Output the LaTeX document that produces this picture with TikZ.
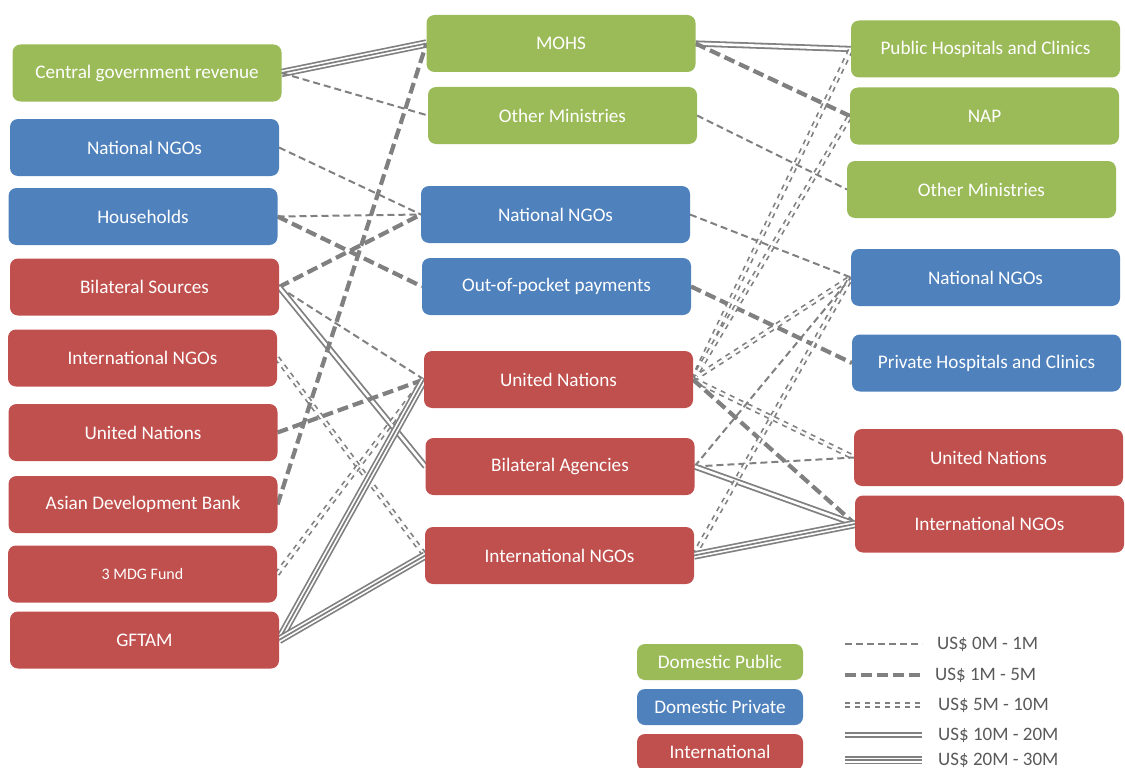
\documentclass[tikz,border=0pt]{standalone}
\usepackage{fontspec}
\setmainfont{Carlito}
\usetikzlibrary{backgrounds}
\definecolor{gpub}{RGB}{155,187,89}
\definecolor{gpriv}{RGB}{79,129,189}
\definecolor{gint}{RGB}{192,80,77}
\definecolor{conn}{RGB}{128,128,128}
\definecolor{legtext}{RGB}{89,89,89}
\begin{document}
\begin{tikzpicture}[x=1pt,y=-1pt,
  box/.style={rounded corners=8pt, minimum width=269pt, minimum height=57pt, inner sep=0pt, outer sep=0pt, text=white, font=\fontsize{19.2}{22}\selectfont},
  pub/.style={box, fill=gpub},
  priv/.style={box, fill=gpriv},
  intl/.style={box, fill=gint},
  legbox/.style={box, minimum width=166pt, minimum height=36pt},
  thindash/.style={draw=conn, line width=2pt, dash pattern=on 7pt off 4pt},
  thickdash/.style={draw=conn, line width=4.2pt, dash pattern=on 11pt off 5pt},
  dbldash/.style={draw=conn, line width=1.7pt, double=white, double distance=2.2pt, dash pattern=on 5pt off 5pt},
  dblsolid/.style={draw=conn, line width=1.8pt, double=white, double distance=2.6pt},
  triple/.style={preaction={draw=conn, line width=8.4pt}, preaction={draw=white, line width=5pt}, draw=conn, line width=1.7pt},
  legtxt/.style={anchor=west, inner sep=0pt, text=legtext, font=\fontsize{19}{22}\selectfont},
]
\useasboundingbox (0,0) rectangle (1125,768);
\clip (0,0) rectangle (1125,768);

% left column
\node[pub]  (L1) at (147,73)    {Central government revenue};
\node[priv] (L2) at (144.5,147.5) {National NGOs};
\node[priv] (L3) at (143,216.5) {Households};
\node[intl] (L4) at (144.5,287) {Bilateral Sources};
\node[intl] (L5) at (142.5,358) {International NGOs};
\node[intl] (L6) at (143,432.5) {United Nations};
\node[intl] (L7) at (143,504.5) {Asian Development Bank};
\node[intl, font=\fontsize{16}{19}\selectfont] (L8) at (142.5,574) {3 MDG Fund};
\node[intl] (L9) at (144.5,640) {GFTAM};

% middle column
\node[pub]  (M1) at (561,43.5)   {MOHS};
\node[pub]  (M2) at (562.5,115.5) {Other Ministries};
\node[priv] (M3) at (555.5,214.5) {National NGOs};
\node[priv] (M4) at (556.5,286.5) {Out-of-pocket payments};
\node[intl] (M5) at (558.5,379.5) {United Nations};
\node[intl] (M6) at (560,466.5)   {Bilateral Agencies};
\node[intl] (M7) at (559.5,555.5) {International NGOs};

% right column
\node[pub]  (R1) at (985.5,49)   {Public Hospitals and Clinics};
\node[pub]  (R2) at (984.5,116)  {NAP};
\node[pub]  (R3) at (981.5,189.5) {Other Ministries};
\node[priv] (R4) at (985.5,277.5) {National NGOs};
\node[priv] (R5) at (986.5,363)  {Private Hospitals and Clinics};
\node[intl] (R6) at (988.5,457.5) {United Nations};
\node[intl] (R7) at (989.5,524)  {International NGOs};

% legend boxes
\node[pub,  legbox] (G1) at (720,662) {Domestic Public};
\node[priv, legbox] (G2) at (720,707) {Domestic Private};
\node[intl, legbox] (G3) at (720,752) {International};

% legend lines
\coordinate (a1) at (845,644); \coordinate (b1) at (922,644);
\coordinate (a2) at (845,675); \coordinate (b2) at (922,675);
\coordinate (a3) at (845,705); \coordinate (b3) at (922,705);
\coordinate (a4) at (845,735); \coordinate (b4) at (922,735);
\coordinate (a5) at (845,760); \coordinate (b5) at (922,760);
\draw[thindash]  (a1) -- (b1);
\draw[thickdash] (a2) -- (b2);
\draw[dbldash]   (a3) -- (b3);
\draw[dblsolid]  (a4) -- (b4);
\draw[triple]    (a5) -- (b5);
\node[legtxt] (t1) at (937,644) {US\$ 0M - 1M};
\node[legtxt] (t2) at (935,675) {US\$ 1M - 5M};
\node[legtxt] (t3) at (938,705) {US\$ 5M - 10M};
\node[legtxt] (t4) at (938,735) {US\$ 10M - 20M};
\node[legtxt] (t5) at (938,760) {US\$ 20M - 30M};

\begin{pgfonlayer}{background}
% left -> middle
\draw[triple]    (L1.east) -- (M1.west);
\draw[thindash]  (L1.east) -- (M2.west);
\draw[thindash]  (L2.east) -- (M3.west);
\draw[thindash]  (L3.east) -- (M3.west);
\draw[thickdash] (L3.east) -- (M4.west);
\draw[thickdash] (L4.east) -- (M3.west);
\draw[thindash]  (L4.east) -- (M5.west);
\draw[dblsolid]  (L4.east) -- (M6.west);
\draw[dbldash]   (L5.east) -- (M7.west);
\draw[thickdash] (L6.east) -- (M5.west);
\draw[thickdash] (L7.east) -- (M1.west);
\draw[dbldash]   (L8.east) -- (M5.west);
\draw[triple]    (L9.east) -- (M5.west);
\draw[triple]    (L9.east) -- (M7.west);
% middle -> right
\draw[dblsolid]  (M1.east) -- (R1.west);
\draw[thickdash] (M1.east) -- (R2.west);
\draw[thindash]  (M2.east) -- (R3.west);
\draw[thindash]  (M3.east) -- (R4.west);
\draw[thickdash] (M4.east) -- (R5.west);
\draw[dbldash]   (M5.east) -- (R1.west);
\draw[dbldash]   (M5.east) -- (R2.west);
\draw[dbldash]   (M5.east) -- (R4.west);
\draw[dbldash]   (M5.east) -- (R6.west);
\draw[thickdash] (M5.east) -- (R7.west);
\draw[thindash]  (M6.east) -- (R4.west);
\draw[thindash]  (M6.east) -- (R6.west);
\draw[dblsolid]  (M6.east) -- (R7.west);
\draw[dbldash]   (M7.east) -- (R4.west);
\draw[triple]    (M7.east) -- (R7.west);
\end{pgfonlayer}
\end{tikzpicture}
\end{document}
